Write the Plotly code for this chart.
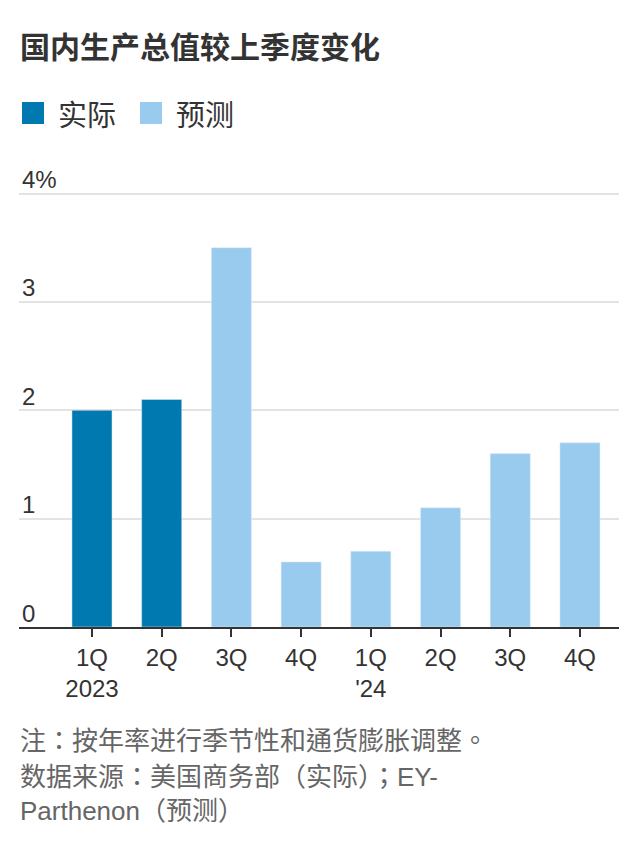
import plotly.graph_objects as go

categories = ["1Q<br>2023", "2Q", "3Q", "4Q", "1Q<br>'24", "2Q", "3Q", "4Q"]
actual_idx = [0, 1]
actual_vals = [2.0, 2.1]
forecast_idx = [2, 3, 4, 5, 6, 7]
forecast_vals = [3.5, 0.6, 0.7, 1.1, 1.6, 1.7]
y_tickvals = [0, 1, 2, 3, 4]
y_ticktext = ["0", "1", "2", "3", "4%"]

title = "国内生产总值较上季度变化"
legend_labels = ["实际", "预测"]
notes = ["注：按年率进行季节性和通货膨胀调整。",
         "数据来源：美国商务部（实际）；EY-",
         "Parthenon（预测）"]

DARK = "#0079b0"
LIGHT = "#99cbef"
FONT = "Liberation Sans, Noto Sans CJK SC, sans-serif"
NOTE_FONT = "Liberation Sans, Noto Sans CJK TC, sans-serif"

W, H = 639, 852
ML, MR, MT, MB = 19, 20, 161, 225
PW = W - ML - MR
PH = H - MT - MB

def px(x):
    return (x - ML) / PW

def py(y):
    return (H - MB - y) / PH

fig = go.Figure()
fig.add_bar(x=actual_idx, y=actual_vals, marker_color=DARK, width=0.575,
            showlegend=False, hoverinfo="y")
fig.add_bar(x=forecast_idx, y=forecast_vals, marker_color=LIGHT, width=0.575,
            showlegend=False, hoverinfo="y")

annotations = []
shapes = []
annotations.append(dict(text=title, x=px(18), y=py(45), xref="paper", yref="paper",
                        xanchor="left", yanchor="middle", showarrow=False,
                        font=dict(family="Noto Sans CJK SC, sans-serif", size=30,
                                  color="#333333", weight="bold")))
leg_x = [22, 140]
for lx, lab, col in zip(leg_x, legend_labels, [DARK, LIGHT]):
    shapes.append(dict(type="rect", xref="paper", yref="paper",
                       x0=px(lx), x1=px(lx + 22), y0=py(124), y1=py(102),
                       fillcolor=col, line=dict(width=0)))
    annotations.append(dict(text=lab, x=px(lx + 34), y=py(113), xref="paper", yref="paper",
                            xanchor="left", yanchor="middle", showarrow=False,
                            font=dict(family="Noto Sans CJK SC, sans-serif", size=29,
                                      color="#333333")))
for i, (t, yy) in enumerate(zip(notes, [741, 777, 811])):
    annotations.append(dict(text=t, x=px(18), y=py(yy), xref="paper", yref="paper",
                            xanchor="left", yanchor="middle", showarrow=False,
                            font=dict(family=NOTE_FONT, size=26, color="#666666")))

fig.update_layout(
    width=W, height=H,
    margin=dict(l=ML, r=MR, t=MT, b=MB, pad=0),
    paper_bgcolor="white", plot_bgcolor="white",
    font=dict(family=FONT, color="#333333"),
    annotations=annotations, shapes=shapes,
    xaxis=dict(range=[-1.047, 7.56], tickmode="array", tickvals=list(range(8)),
               ticktext=categories, showline=True, linecolor="#333333", linewidth=2,
               ticks="outside", ticklen=8, tickwidth=2, tickcolor="#333333",
               showgrid=False, zeroline=False, fixedrange=True,
               tickfont=dict(size=24, color="#333333")),
    yaxis=dict(range=[0, 4.3], tickmode="array", tickvals=y_tickvals, ticktext=y_ticktext,
               ticklabelposition="inside top", ticklabelshift=3,
               showgrid=True, gridcolor="#e3e3e3",
               gridwidth=2, zeroline=False, showline=False, ticks="", fixedrange=True,
               tickfont=dict(size=24, color="#333333")),
)

fig.write_html("out.html")
